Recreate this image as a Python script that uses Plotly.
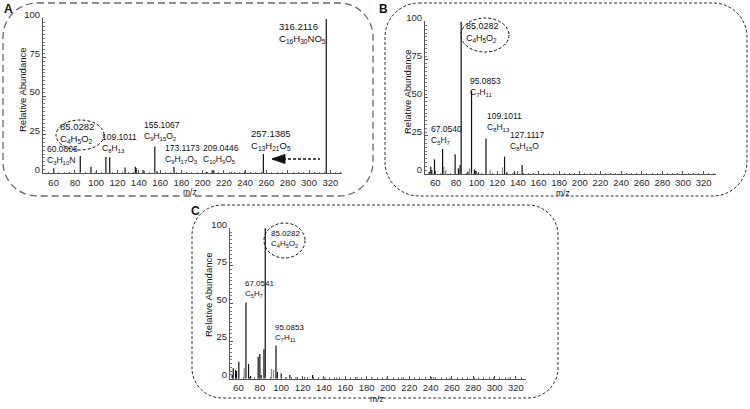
import plotly.graph_objects as go

# ---------------- data ----------------
# Panel A
a_mz = [60.08, 85.03, 95.1, 100.1, 109.1, 112.7, 127.1, 136.8, 137.6, 144.0, 145.3,
        155.1, 157.2, 173.1, 203.6, 209.0, 210.5, 227.0, 239.6, 257.1, 316.2]
a_int = [3.2, 11.2, 4.3, 1.1, 10.6, 10.2, 3.7, 4.3, 3.2, 2.2, 1.3,
         17.3, 1.3, 4.3, 0.9, 1.9, 1.9, 0.6, 1.1, 12.5, 100]
a_lab_mass = ["316.2116", "85.0282", "109.1011", "60.0806", "155.1067", "173.1173", "209.0446", "257.1385"]
a_lab_form = ["C<sub>16</sub>H<sub>30</sub>NO<sub>5</sub>", "C<sub>4</sub>H<sub>5</sub>O<sub>2</sub>",
              "C<sub>8</sub>H<sub>13</sub>", "C<sub>3</sub>H<sub>10</sub>N",
              "C<sub>9</sub>H<sub>15</sub>O<sub>2</sub>", "C<sub>9</sub>H<sub>17</sub>O<sub>3</sub>",
              "C<sub>10</sub>H<sub>9</sub>O<sub>5</sub>", "C<sub>13</sub>H<sub>21</sub>O<sub>5</sub>"]

# Panel B
b_mz = [54.0, 55.6, 56.6, 59.2, 67.05, 79.2, 82.4, 84.0, 85.03, 91.5, 95.09, 97.9, 99.2,
        101.8, 109.1, 127.1, 129.3, 136.7, 144.1]
b_int = [1.5, 4.8, 2.6, 9.6, 16.4, 12.9, 3.7, 5.9, 100, 1.5, 54.7, 3.0, 2.2,
         1.1, 23.4, 11.4, 1.1, 1.8, 5.9]
b_mz_gray = [68.2, 70.1, 93.1, 113.1, 125.1]
b_int_gray = [4.8, 2.6, 3.7, 2.6, 4.4]
b_lab_mass = ["85.0282", "95.0853", "67.0540", "109.1011", "127.1117"]
b_lab_form = ["C<sub>4</sub>H<sub>5</sub>O<sub>2</sub>", "C<sub>7</sub>H<sub>11</sub>",
              "C<sub>5</sub>H<sub>7</sub>", "C<sub>8</sub>H<sub>13</sub>", "C<sub>8</sub>H<sub>15</sub>O"]

# Panel C
c_mz = [54.1, 55.0, 57.2, 58.1, 60.3, 66.95, 69.4, 71.3, 78.4, 80.0, 81.3, 83.8, 85.03,
        95.09, 96.4, 100.0, 104.4, 108.1, 113.8, 122.0, 129.4,
        141, 152, 171, 185, 199, 213, 241, 243, 258, 281, 299, 313]
c_int = [2.4, 6.9, 5.8, 5.1, 11.3, 50.6, 9.8, 1.8, 14.6, 16.4, 2.4, 19.5, 100,
         22.0, 4.4, 3.5, 1.0, 2.4, 1.0, 1.0, 2.4,
         0.8, 0.7, 0.8, 0.6, 0.7, 0.6, 0.9, 0.8, 0.6, 0.7, 0.6, 0.7]
c_mz_gray = [65.3, 90.9, 92.8]
c_int_gray = [6.9, 6.4, 5.8]
c_lab_mass = ["85.0282", "67.0541", "95.0853"]
c_lab_form = ["C<sub>4</sub>H<sub>5</sub>O<sub>2</sub>", "C<sub>5</sub>H<sub>7</sub>", "C<sub>7</sub>H<sub>11</sub>"]

y_ticks = [0, 25, 50, 75, 100]
x_ticks = list(range(60, 321, 20))

# ---------------- layout helpers ----------------
W, H = 750, 409
FONT = "Liberation Sans, Arial, sans-serif"


def fx(x):
    return x / W


def fy(y):
    return 1 - y / H


def sticks(mz, inten):
    xs, ys = [], []
    for m, h in zip(mz, inten):
        xs += [m, m, None]
        ys += [0, h, None]
    return xs, ys


fig = go.Figure()

panels = [
    # name, x-left px, x-right px, baseline px, top px, xrange
    ("", 43, 342, 173.3, 18.2, [50, 331]),
    ("2", 425, 716, 174.0, 21.0, [50, 332]),
    ("3", 230, 526, 378.7, 227.5, [52, 329.4]),
]
series = [
    (a_mz, a_int, [], []),
    (b_mz, b_int, b_mz_gray, b_int_gray),
    (c_mz, c_int, c_mz_gray, c_int_gray),
]

for (suf, xl, xr, yb, yt, xr_rng), (mz, it, mzg, itg) in zip(panels, series):
    xa = "x" + suf
    ya = "y" + suf
    gx, gy = sticks(mzg, itg)
    if gx:
        fig.add_trace(go.Scatter(x=gx, y=gy, mode="lines", xaxis=xa, yaxis=ya,
                                 line=dict(color="#8a8a8a", width=1.2), hoverinfo="skip",
                                 showlegend=False))
    bx, by = sticks(mz, it)
    fig.add_trace(go.Scatter(x=bx, y=by, mode="lines", xaxis=xa, yaxis=ya,
                             line=dict(color="#111111", width=1.2), hoverinfo="skip",
                             showlegend=False))
    axcommon = dict(showgrid=False, zeroline=False, showline=True, linecolor="#555555",
                    linewidth=1, ticks="inside", ticklen=3, tickcolor="#555555",
                    automargin=False,
                    tickfont=dict(family=FONT, size=9.5, color="#2a2a2a"))
    fig.layout["xaxis" + suf] = dict(
        domain=[fx(xl), fx(xr)], range=xr_rng, anchor=ya, tickvals=x_ticks,
        minor=dict(ticks="inside", ticklen=1.5, dtick=5, tick0=0, tickcolor="#777777"),
        **axcommon)
    fig.layout["yaxis" + suf] = dict(
        domain=[fy(yb), fy(yt)], range=[0, 100.5], anchor=xa, tickvals=y_ticks,
        ticklabelshift=-4,
        minor=dict(ticks="inside", ticklen=1.5, dtick=2.5, tick0=0, tickcolor="#777777"),
        **axcommon)

anns = []


def lab(text, x, y, size, xanchor="left", yanchor="top", angle=0, bold=False):
    anns.append(dict(text=("<b>%s</b>" % text) if bold else text, x=fx(x), y=fy(y),
                     xref="paper", yref="paper", showarrow=False, xanchor=xanchor,
                     yanchor=yanchor, textangle=angle, align="left",
                     font=dict(family=FONT, size=size, color="#111111")))


# peak labels: positions (left px, top px, size)
a_pos = [(277, 19, 9.5), (58, 119, 9.5), (100, 130, 8.5), (45, 142, 8.5),
         (142, 118, 8.5), (163, 141, 8.5), (201, 141, 8.5), (249, 126, 9.5)]
b_pos = [(464, 19, 9), (468, 74, 8.5), (429, 122, 8.5), (485, 109, 8.5), (508, 128, 8.5)]
c_pos = [(269, 227, 8), (243, 277, 8), (273, 321, 8)]
for masses, forms, pos in [(a_lab_mass, a_lab_form, a_pos), (b_lab_mass, b_lab_form, b_pos),
                           (c_lab_mass, c_lab_form, c_pos)]:
    for m, f, (x, y, s) in zip(masses, forms, pos):
        lab(m + "<br>" + f, x, y, s)

# axis titles
for x, y in [(22, 90), (407, 92), (208, 295)]:
    lab("Relative Abundance", x, y, 9.5, xanchor="center", yanchor="middle", angle=-90)
for x, y in [(190, 192), (563, 193), (377, 399)]:
    lab("m/z", x, y, 8.5, xanchor="center", yanchor="middle")

# panel letters
lab("A", 2, 9, 12, yanchor="middle", bold=True)
lab("B", 377, 9, 12, yanchor="middle", bold=True)
lab("C", 189, 211, 12, yanchor="middle", bold=True)

fig.update_layout(annotations=anns)


def rr_path(x0, y0, x1, y1, r):
    k = 0.5523 * r
    pts = []
    pts.append("M %f,%f" % (fx(x0 + r), fy(y0)))
    pts.append("L %f,%f" % (fx(x1 - r), fy(y0)))
    pts.append("C %f,%f %f,%f %f,%f" % (fx(x1 - r + k), fy(y0), fx(x1), fy(y0 + r - k), fx(x1), fy(y0 + r)))
    pts.append("L %f,%f" % (fx(x1), fy(y1 - r)))
    pts.append("C %f,%f %f,%f %f,%f" % (fx(x1), fy(y1 - r + k), fx(x1 - r + k), fy(y1), fx(x1 - r), fy(y1)))
    pts.append("L %f,%f" % (fx(x0 + r), fy(y1)))
    pts.append("C %f,%f %f,%f %f,%f" % (fx(x0 + r - k), fy(y1), fx(x0), fy(y1 - r + k), fx(x0), fy(y1 - r)))
    pts.append("L %f,%f" % (fx(x0), fy(y0 + r)))
    pts.append("C %f,%f %f,%f %f,%f" % (fx(x0), fy(y0 + r - k), fx(x0 + r - k), fy(y0), fx(x0 + r), fy(y0)))
    pts.append("Z")
    return " ".join(pts)


shapes = [
    dict(type="path", path=rr_path(3, 3, 373, 196, 34), xref="paper", yref="paper",
         line=dict(color="#6a6a6a", width=1.3, dash="7px,4px")),
    dict(type="path", path=rr_path(385, 3, 747, 196, 34), xref="paper", yref="paper",
         line=dict(color="#333333", width=1, dash="3px,2px")),
    dict(type="path", path=rr_path(192, 205, 558, 398, 30), xref="paper", yref="paper",
         line=dict(color="#333333", width=1, dash="3px,2px")),
    # dashed ellipses
    dict(type="circle", x0=fx(56), x1=fx(104), y0=fy(150), y1=fy(120), xref="paper", yref="paper",
         line=dict(color="#111111", width=1, dash="3px,2px")),
    dict(type="circle", x0=fx(461), x1=fx(509), y0=fy(52), y1=fy(18), xref="paper", yref="paper",
         line=dict(color="#111111", width=1, dash="3px,2px")),
    dict(type="circle", x0=fx(264), x1=fx(305), y0=fy(258), y1=fy(223), xref="paper", yref="paper",
         line=dict(color="#111111", width=1, dash="3px,2px")),
    # arrow in A
    dict(type="line", x0=fx(283), x1=fx(320), y0=fy(159), y1=fy(159), xref="paper", yref="paper",
         line=dict(color="#111111", width=1.5, dash="3px,2px")),
    dict(type="path", path="M %f,%f L %f,%f L %f,%f Z" % (fx(272), fy(159), fx(285), fy(154.5), fx(285), fy(163.5)),
         xref="paper", yref="paper", fillcolor="#111111", line=dict(color="#111111", width=1)),
]

fig.update_layout(
    width=W, height=H, margin=dict(l=0, r=0, t=0, b=0, pad=0, autoexpand=False),
    paper_bgcolor="white", plot_bgcolor="white",
    shapes=shapes, showlegend=False,
)

post = ("document.documentElement.style.margin='0px';document.body.style.margin='0px';"
        "document.body.style.padding='0px';document.body.style.overflow='hidden';"
        "var d=document.querySelector('.plotly-graph-div');"
        "d.style.position='absolute';d.style.left='0px';d.style.top='0px';")
fig.write_html("out.html", config={"displayModeBar": False}, post_script=post)
